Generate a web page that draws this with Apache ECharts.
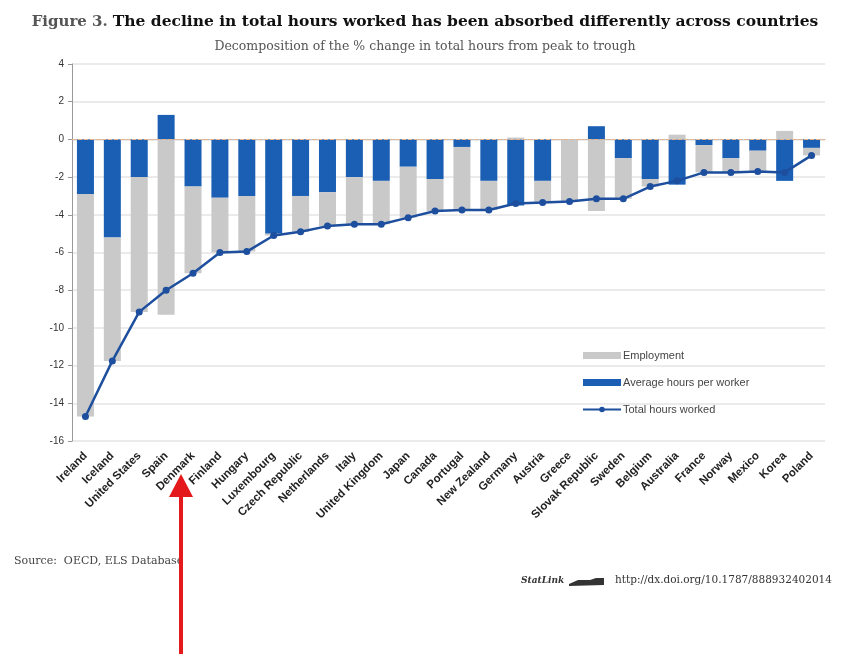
<!DOCTYPE html>
<html>
<head>
<meta charset="utf-8">
<script src="https://cdn.jsdelivr.net/npm/echarts@6/dist/echarts.min.js"></script>
<style>
  html, body { margin: 0; padding: 0; background: #fff; }
  #chart { width: 850px; height: 654px; }
</style>
</head>
<body>
<div id="chart"></div>
<script>
var countries = ['Ireland', 'Iceland', 'United States', 'Spain', 'Denmark', 'Finland', 'Hungary',
  'Luxembourg', 'Czech Republic', 'Netherlands', 'Italy', 'United Kingdom', 'Japan', 'Canada',
  'Portugal', 'New Zealand', 'Germany', 'Austria', 'Greece', 'Slovak Republic', 'Sweden',
  'Belgium', 'Australia', 'France', 'Norway', 'Mexico', 'Korea', 'Poland'];

// % change, peak to trough
var avgHours = [-2.9, -5.2, -2.0, 1.3, -2.5, -3.1, -3.0, -5.0, -3.0, -2.8, -2.0, -2.2, -1.45, -2.1,
  -0.4, -2.2, -3.5, -2.2, 0.0, 0.7, -1.0, -2.1, -2.4, -0.3, -1.0, -0.6, -2.2, -0.45];
var employment = [-11.8, -6.55, -7.15, -9.3, -4.6, -2.9, -2.95, -0.1, -1.9, -1.8, -2.5, -2.3, -2.7, -1.7,
  -3.35, -1.55, 0.1, -1.1, -3.3, -3.8, -2.15, -0.4, 0.25, -1.45, -0.75, -1.1, 0.45, -0.4];
var totalHours = [-14.7, -11.75, -9.15, -8.0, -7.1, -6.0, -5.95, -5.1, -4.9, -4.6, -4.5, -4.5, -4.15, -3.8,
  -3.75, -3.75, -3.4, -3.35, -3.3, -3.15, -3.15, -2.5, -2.2, -1.75, -1.75, -1.7, -1.75, -0.85];

var yTicks = { min: -16, max: 4, step: 2 };

var serif = '"DejaVu Serif", "Liberation Serif", serif';
var sans = '"Liberation Sans", Arial, sans-serif';

var myChart = echarts.init(document.getElementById('chart'));

var option = {
  backgroundColor: '#fff',
  animation: false,
  title: [{
    text: '{n|Figure 3.} {b|The decline in total hours worked has been absorbed differently across countries}',
    left: 'center',
    top: 8,
    textStyle: {
      rich: {
        n: { fontFamily: serif, fontSize: 15, color: '#555' },
        b: { fontFamily: serif, fontSize: 15.5, fontWeight: 'bold', color: '#111' }
      }
    }
  }, {
    text: 'Decomposition of the % change in total hours from peak to trough',
    left: 'center',
    top: 35,
    textStyle: { fontFamily: serif, fontSize: 12.5, fontWeight: 'normal', color: '#555' }
  }],
  legend: {
    orient: 'vertical',
    left: 577,
    top: 345,
    itemWidth: 38,
    itemHeight: 7,
    itemGap: 16,
    data: [
      { name: 'Employment', icon: 'rect' },
      { name: 'Average hours per worker', icon: 'rect' },
      { name: 'Total hours worked' }
    ],
    textStyle: { fontFamily: sans, fontSize: 11, color: '#444', padding: [0, 0, 0, -3] }
  },
  grid: { left: 72, right: 25, top: 64, bottom: 213 },
  xAxis: {
    type: 'category',
    data: countries,
    axisLine: { show: true, lineStyle: { color: '#bbb', type: 'dotted', width: 1 } },
    axisTick: { show: false },
    axisLabel: {
      interval: 0,
      rotate: 45,
      margin: 13,
      fontFamily: sans,
      fontSize: 11.5,
      fontWeight: 'bold',
      color: '#222'
    }
  },
  yAxis: {
    type: 'value',
    min: yTicks.min,
    max: yTicks.max,
    interval: yTicks.step,
    axisLine: { show: true, lineStyle: { color: '#999' } },
    axisTick: { show: true, length: 4, lineStyle: { color: '#999' } },
    axisLabel: { fontFamily: sans, fontSize: 10, color: '#333', margin: 8 },
    splitLine: { lineStyle: { color: '#e4e4e4', width: 1.5 } }
  },
  series: [{
    name: 'Average hours per worker',
    type: 'bar',
    stack: 'decomp',
    barWidth: 17,
    itemStyle: { color: '#1b5fb4' },
    data: avgHours,
    z: 2,
    markLine: {
      silent: true,
      symbol: 'none',
      label: { show: false },
      lineStyle: { color: '#e8b48c', type: 'dashed', width: 1 },
      data: [{ yAxis: 0 }]
    }
  }, {
    name: 'Employment',
    type: 'bar',
    stack: 'decomp',
    barWidth: 17,
    itemStyle: { color: '#c9c9c9' },
    data: employment,
    z: 2
  }, {
    name: 'Total hours worked',
    type: 'line',
    data: totalHours,
    symbol: 'circle',
    symbolSize: 7,
    lineStyle: { color: '#1d4f9e', width: 2.5 },
    itemStyle: { color: '#1d4f9e' },
    z: 5
  }],
  graphic: [{
    type: 'text',
    left: 14,
    top: 556,
    style: { text: 'Source:  OECD, ELS Database', fontFamily: serif, fontSize: 11, fill: '#444' }
  }, {
    type: 'text',
    left: 521,
    top: 576,
    style: { text: 'StatLink', fontFamily: serif, fontSize: 9, fontStyle: 'italic', fontWeight: 'bold', fill: '#333' }
  }, {
    type: 'polygon',
    shape: { points: [[569, 584], [578, 580], [590, 580], [596, 578], [604, 578], [604, 585], [569, 586]] },
    style: { fill: '#333' }
  }, {
    type: 'text',
    left: 615,
    top: 575,
    style: { text: 'http://dx.doi.org/10.1787/888932402014', fontFamily: serif, fontSize: 10.5, fill: '#333' }
  }, {
    type: 'line',
    shape: { x1: 181, y1: 654, x2: 181, y2: 492 },
    style: { stroke: '#e3191c', lineWidth: 4 },
    z: 100
  }, {
    type: 'polygon',
    shape: { points: [[181, 474], [169, 497], [193, 497]] },
    style: { fill: '#e3191c' },
    z: 100
  }]
};

myChart.setOption(option);
</script>
</body>
</html>
